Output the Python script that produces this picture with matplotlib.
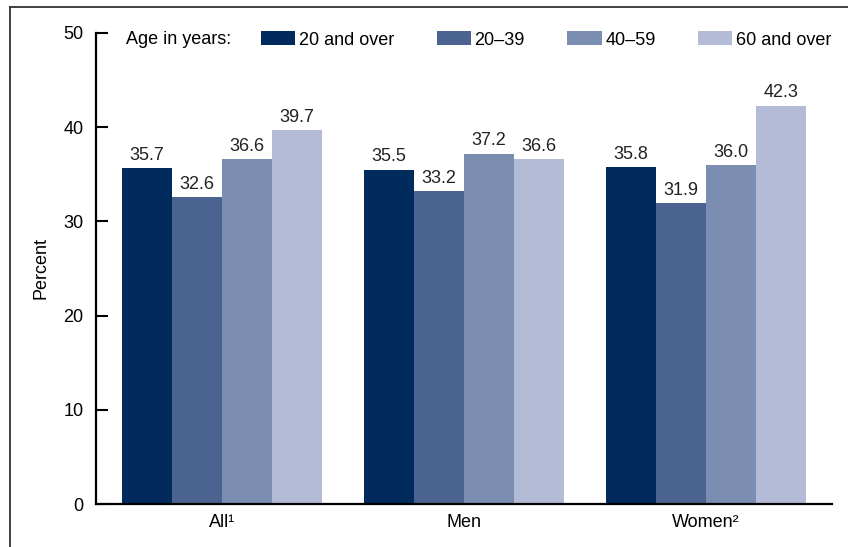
import matplotlib.pyplot as plt
import numpy as np
from matplotlib.lines import Line2D
from matplotlib.patches import Patch

plt.rcParams['font.family'] = ['Liberation Sans', 'DejaVu Sans']

# Data
groups = ['All\u00b9', 'Men', 'Women\u00b2']
ages = ['20 and over', '20\u201339', '40\u201359', '60 and over']
age_20_over = [35.7, 35.5, 35.8]
age_20_39 = [32.6, 33.2, 31.9]
age_40_59 = [36.6, 37.2, 36.0]
age_60_over = [39.7, 36.6, 42.3]
colors = ['#012b5c', '#4a6390', '#7b8db1', '#b3bbd6']

series = [age_20_over, age_20_39, age_40_59, age_60_over]
fs = 13

fig = plt.figure(figsize=(8.48, 5.47), dpi=100)
ax = fig.add_axes([0.1132, 0.0786, 0.9811 - 0.1132, 0.9397 - 0.0786])

x = np.arange(len(groups))
w = 0.206
for i, vals in enumerate(series):
    pos = x + (i - 1.5) * w
    bars = ax.bar(pos, vals, width=w, color=colors[i], label=ages[i])
    ax.bar_label(bars, labels=['%.1f' % v for v in vals], padding=3,
                 fontsize=fs, color='#222222')

ax.set_xlim(-0.52, 2.52)
ax.set_ylim(0, 50)
ax.set_yticks([0, 10, 20, 30, 40, 50])
ax.set_xticks(x)
ax.set_xticklabels(groups, fontsize=fs)
ax.tick_params(axis='y', direction='in', length=8.5, width=1.5, pad=9, labelsize=fs)
ax.tick_params(axis='x', length=0, pad=7)
for s in ['top', 'right']:
    ax.spines[s].set_visible(False)
for s in ['left', 'bottom']:
    ax.spines[s].set_linewidth(1.6)
ax.set_ylabel('Percent', fontsize=fs, labelpad=10)

# legend across the top
handles = [Patch(facecolor=c, edgecolor='none') for c in colors]
fig.text(126 / 848, 1 - 40 / 547, 'Age in years:', fontsize=fs, va='center', ha='left')
ax.legend(handles, ages, loc='center right', bbox_to_anchor=(1.009, 1 - 7 / 471),
          ncol=4, frameon=False, fontsize=fs, handlelength=1.9, handleheight=0.8,
          handletextpad=0.2, columnspacing=2.35, borderaxespad=0)

# outer frame (partly cut off)
fig.add_artist(Line2D([10 / 848, 10 / 848], [0, 1 - 7 / 547], color='#333333', lw=1.3))
fig.add_artist(Line2D([10 / 848, 1], [1 - 7 / 547, 1 - 7 / 547], color='#333333', lw=1.3))

fig.savefig('out.png', dpi=100)
